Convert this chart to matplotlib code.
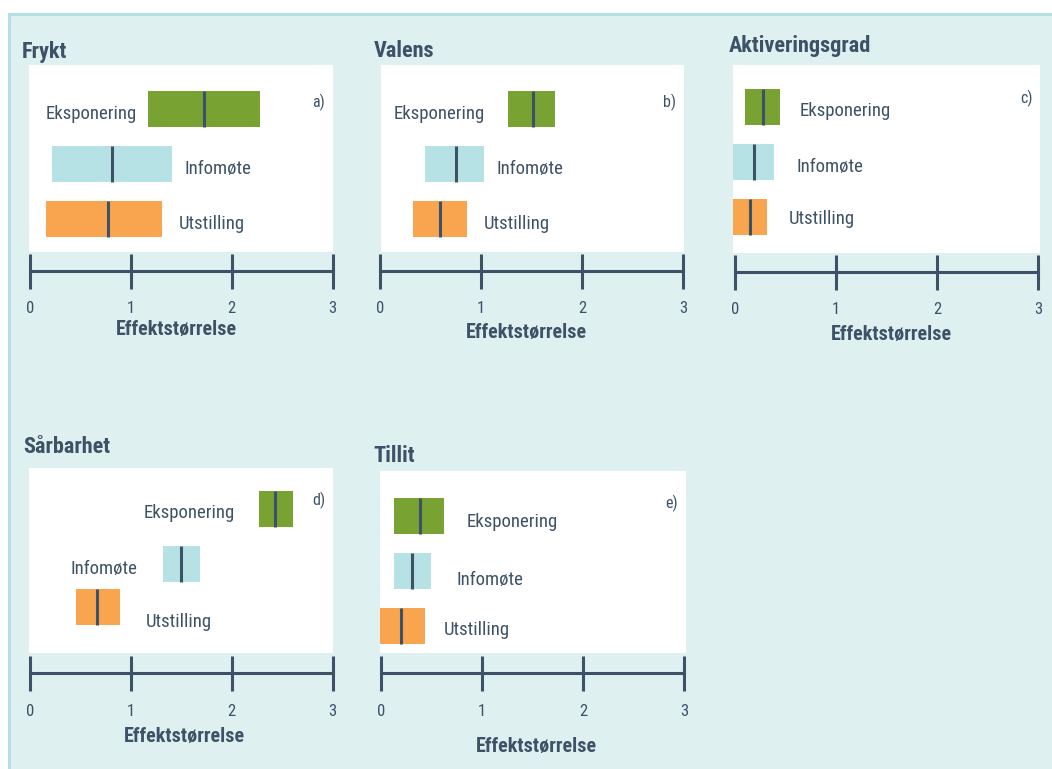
import os
import matplotlib
matplotlib.use("Agg")
import matplotlib.pyplot as plt
from matplotlib import font_manager as fm
from matplotlib.patches import Rectangle

# ---------------- data ----------------
panel_titles = ["Frykt", "Valens", "Aktiveringsgrad", "Sårbarhet", "Tillit"]
panel_letters = ["a)", "b)", "c)", "d)", "e)"]
categories = ["Eksponering", "Infomøte", "Utstilling"]
x_ticks = [0, 1, 2, 3]
x_label = "Effektstørrelse"

# low / mean / high effect sizes per panel, order: Eksponering, Infomøte, Utstilling
frykt_low = [1.17, 0.22, 0.16]
frykt_mean = [1.73, 0.81, 0.78]
frykt_high = [2.28, 1.41, 1.31]

valens_low = [1.27, 0.45, 0.33]
valens_mean = [1.51, 0.75, 0.59]
valens_high = [1.73, 1.03, 0.86]

aktiv_low = [0.10, -0.02, -0.02]
aktiv_mean = [0.28, 0.19, 0.15]
aktiv_high = [0.45, 0.39, 0.32]

sarbar_low = [2.27, 1.32, 0.46]
sarbar_mean = [2.43, 1.50, 0.67]
sarbar_high = [2.61, 1.69, 0.89]

tillit_low = [0.13, 0.13, -0.01]
tillit_mean = [0.39, 0.31, 0.20]
tillit_high = [0.63, 0.50, 0.44]

panel_data = [
    (frykt_low, frykt_mean, frykt_high),
    (valens_low, valens_mean, valens_high),
    (aktiv_low, aktiv_mean, aktiv_high),
    (sarbar_low, sarbar_mean, sarbar_high),
    (tillit_low, tillit_mean, tillit_high),
]

# ---------------- styles ----------------
bar_colors = ["#78a232", "#b6e1e5", "#f9a54f"]
dark = "#3d5267"
bg = "#dff0f0"
border = "#b4dfe3"

# ---------------- layout (pixels) ----------------
W, H = 1052, 769
layout = [
    dict(box=(29, 65, 333, 252), t0=29.7, t3=332.7, ay=270.7, bars=[109, 164, 219],
         title=(22, 58), labels=[(46, 119), (185, 174), (179, 229.3)], letter=(312, 106.7),
         xl=(176, 335)),
    dict(box=(381, 65, 684, 252), t0=380, t3=683.3, ay=270.7, bars=[109, 164, 219],
         title=(374, 57.3), labels=[(394, 119), (496.7, 174), (484, 229.3)], letter=(663.3, 106.7),
         xl=(526, 338.3)),
    dict(box=(733, 65, 1040, 253), t0=734.7, t3=1038, ay=271.7, bars=[107, 162, 217],
         title=(729, 51.7), labels=[(800, 115.7), (796, 171.7), (789, 224.3)], letter=(1020.7, 103.3),
         xl=(891, 340)),
    dict(box=(29, 468, 333, 653), t0=29.7, t3=332.7, ay=673.3, bars=[508.8, 563.8, 606.8],
         title=(23, 453.3), labels=[(144, 517.7), (71, 574), (146, 626.7)], letter=(312.3, 505),
         xl=(184, 741.7)),
    dict(box=(380, 471, 685.7, 653), t0=380.7, t3=684, ay=673.3, bars=[515.8, 570.8, 625.8],
         title=(373, 461.7), labels=[(466.7, 526.7), (456, 585), (444, 635)], letter=(665, 508.3),
         xl=(536, 751.7)),
]
bar_h = 36  # px


# ---------------- fonts ----------------
def find_font(candidates):
    files = {os.path.basename(f.fname).lower(): f.fname for f in fm.fontManager.ttflist}
    for c in candidates:
        if c in files:
            return fm.FontProperties(fname=files[c])
    return None


reg_fp = find_font(["notosans-condensed.ttf", "robotocondensed-regular.ttf",
                    "liberationsansnarrow-regular.ttf", "dejavusanscondensed.ttf"])
bold_fp = find_font(["notosans-condensedsemibold.ttf", "notosans-condensedbold.ttf",
                     "robotocondensed-bold.ttf", "liberationsansnarrow-bold.ttf",
                     "dejavusanscondensed-bold.ttf"])
if reg_fp is None:
    reg_fp = fm.FontProperties(family="DejaVu Sans")
if bold_fp is None:
    bold_fp = fm.FontProperties(family="DejaVu Sans", weight="bold")


def fp(base, size):
    p = base.copy()
    p.set_size(size)
    return p


def fx(x):
    return x / W


def fy(y):
    return 1 - y / H


fig = plt.figure(figsize=(W / 100, H / 100), dpi=100)
fig.patch.set_facecolor("white")

# outer background frame
fig.patches.append(Rectangle((fx(9.5), fy(H + 20)), fx(W + 20), fy(13.8) - fy(H + 20),
                             transform=fig.transFigure, facecolor=bg, edgecolor=border,
                             linewidth=2.2, zorder=-3))

for i, L in enumerate(layout):
    low, mean, high = panel_data[i]
    bl, bt, br, bb = L["box"]
    # white box
    fig.patches.append(Rectangle((fx(bl), fy(bb)), fx(br) - fx(bl), fy(bt) - fy(bb),
                                 transform=fig.transFigure, facecolor="white",
                                 edgecolor="none", zorder=-2))
    ax = fig.add_axes([fx(L["t0"]), fy(L["ay"]), fx(L["t3"]) - fx(L["t0"]), fy(bt) - fy(L["ay"])])
    ax.set_facecolor("none")
    ax.set_xlim(x_ticks[0], x_ticks[-1])
    ax.set_ylim(L["ay"], bt)
    for s in ["top", "left", "right"]:
        ax.spines[s].set_visible(False)
    ax.spines["bottom"].set_color(dark)
    ax.spines["bottom"].set_linewidth(2.2)
    ax.set_yticks([])
    ax.set_xticks(x_ticks)
    ax.set_xticklabels([str(t) for t in x_ticks])
    ax.tick_params(axis="x", direction="inout", length=25.2, width=2.2, color=dark,
                   labelcolor=dark, pad=9.5)
    for lab in ax.get_xticklabels():
        lab.set_fontproperties(fp(reg_fp, 12))

    widths = [h - l for l, h in zip(low, high)]
    ax.barh(L["bars"], widths, left=low, height=bar_h, color=bar_colors, clip_on=False)
    ax.vlines(mean, [c - bar_h / 2 for c in L["bars"]], [c + bar_h / 2 for c in L["bars"]],
              color=dark, linewidth=2.2, clip_on=False)

    # texts
    tx, ty = L["title"]
    fig.text(fx(tx), fy(ty), panel_titles[i], fontproperties=fp(bold_fp, 16), color=dark,
             ha="left", va="baseline")
    for (lx, ly), cat in zip(L["labels"], categories):
        fig.text(fx(lx), fy(ly), cat, fontproperties=fp(reg_fp, 13.5), color=dark,
                 ha="left", va="baseline")
    lx, ly = L["letter"]
    fig.text(fx(lx), fy(ly), panel_letters[i], fontproperties=fp(reg_fp, 11.5), color=dark,
             ha="left", va="baseline")
    xx, xy = L["xl"]
    fig.text(fx(xx), fy(xy), x_label, fontproperties=fp(bold_fp, 14.5), color=dark,
             ha="center", va="baseline")

fig.savefig("out.png", dpi=100, facecolor=fig.get_facecolor())
